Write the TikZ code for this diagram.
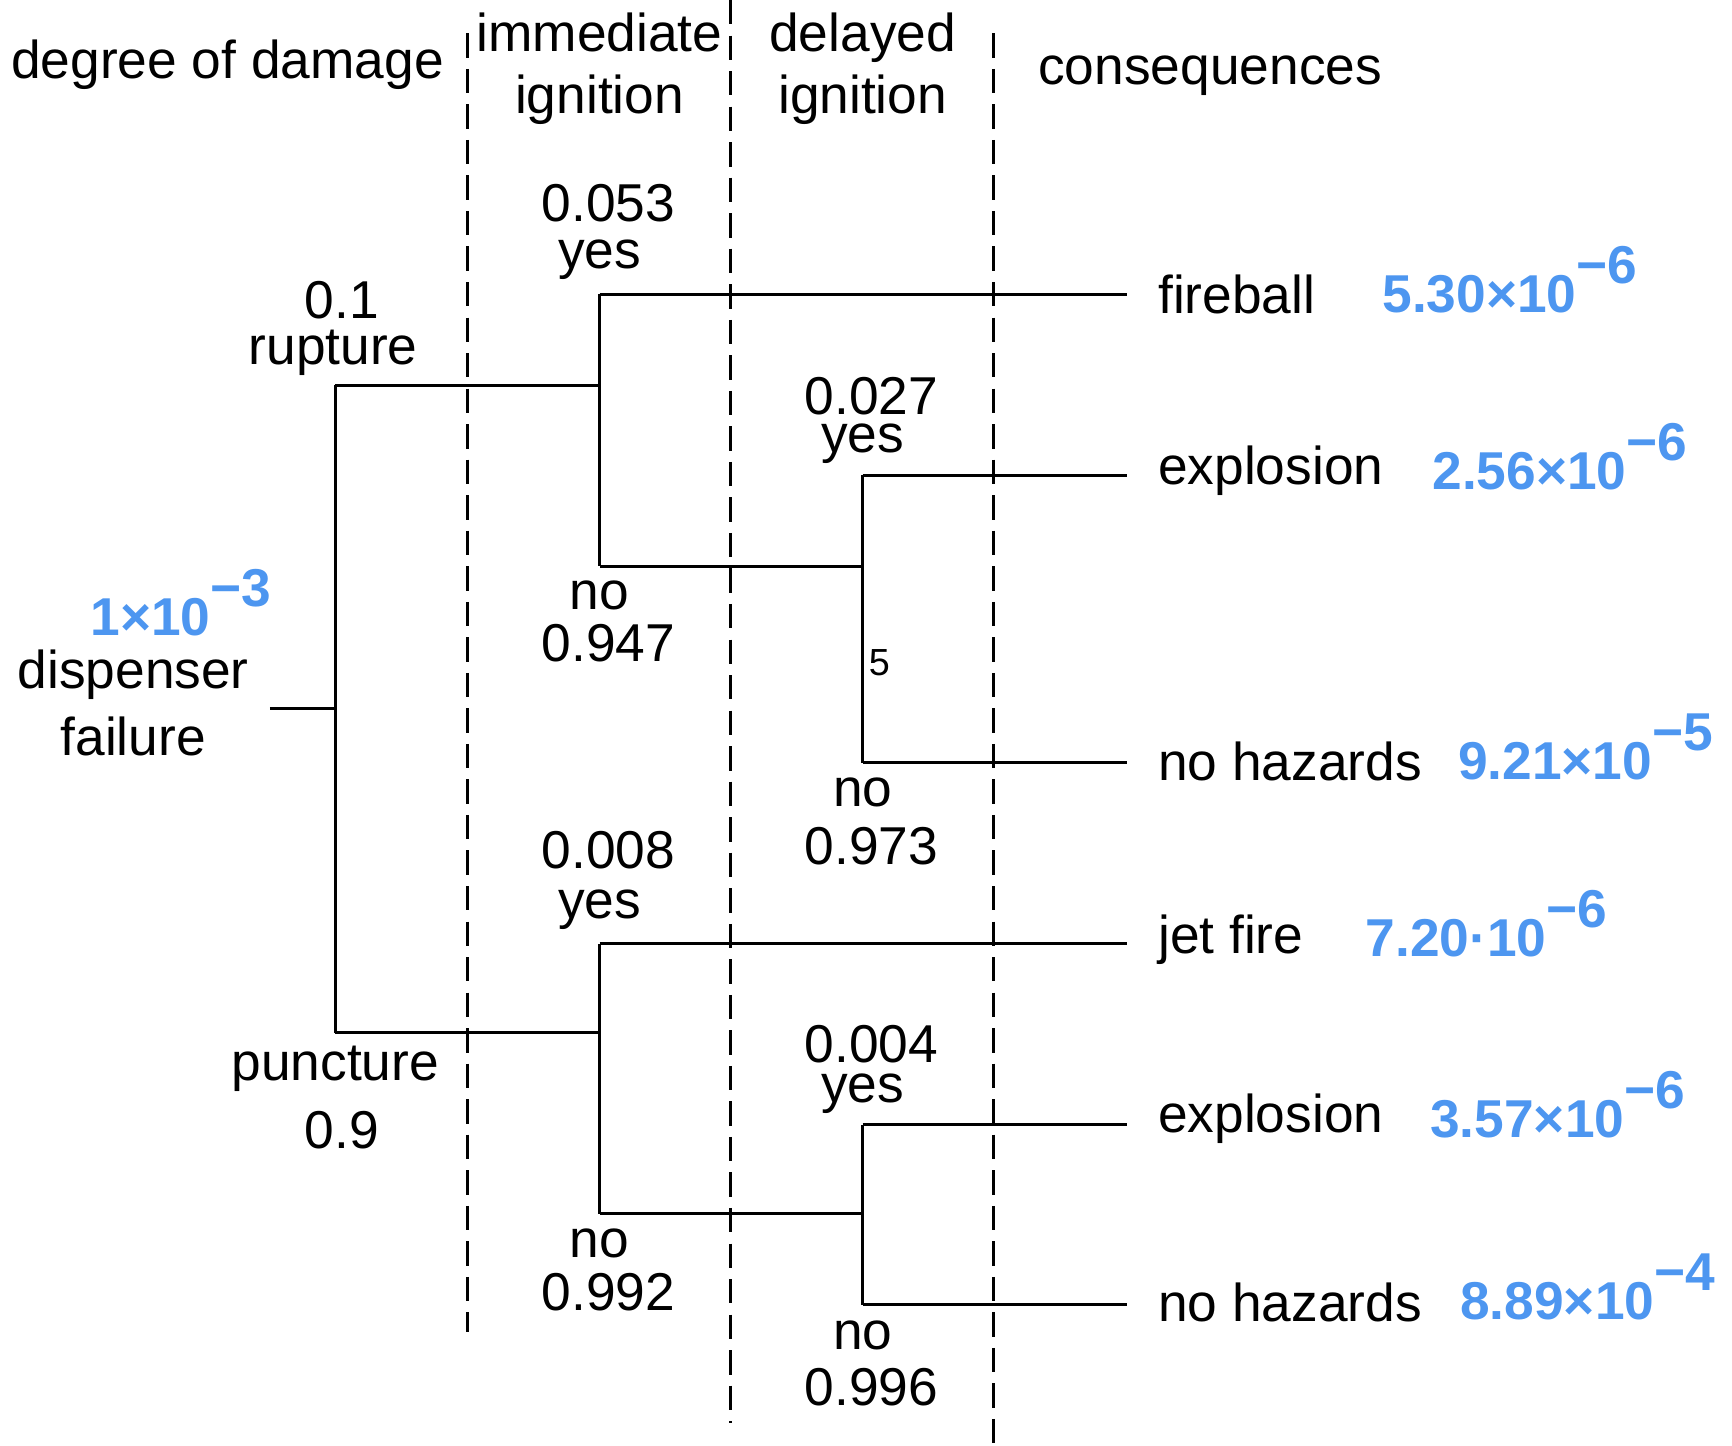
\documentclass[tikz,border=0pt]{standalone}
\usepackage{fontspec}
\setmainfont{Liberation Sans}
\definecolor{vblue}{RGB}{77,150,240}
\begin{document}
\begin{tikzpicture}[x=1pt,y=-1pt,
  lbl/.style={font=\fontsize{48}{50}\selectfont,inner sep=0pt},
  hd/.style={font=\fontsize{48}{56}\selectfont,inner sep=0pt,align=center},
  val/.style={font=\fontsize{48}{50}\selectfont\bfseries,text=vblue,inner sep=0pt,anchor=west},
  br/.style={line width=2.4pt,black},
  dsh/.style={line width=2.4pt,dash pattern=on 22pt off 10pt}]
\useasboundingbox (0,0) rectangle (1560,1302);
\newcommand{\pw}[2]{#1\raisebox{0.55em}{#2}}
% dashed column lines
\coordinate (d1a) at (421,30); \coordinate (d1b) at (421,1200);
\coordinate (d2a) at (658,0); \coordinate (d2b) at (658,1282);
\coordinate (d3a) at (895,30); \coordinate (d3b) at (895,1300);
\draw[dsh] (d1a)--(d1b); \draw[dsh] (d2a)--(d2b); \draw[dsh] (d3a)--(d3b);
% headers
\node[hd,anchor=west] (h1) at (10,58) {degree of damage};
\node[hd] (h2) at (540,62) {immediate\\ignition};
\node[hd] (h3) at (777,62) {delayed\\ignition};
\node[hd] (h4) at (1090,68) {consequences};
% tree coordinates
\coordinate (r0) at (243,638); \coordinate (r1) at (302,638);
\coordinate (a1) at (302,347); \coordinate (a2) at (302,930);
\coordinate (b1) at (540,347); \coordinate (b2) at (540,930);
\coordinate (c1) at (540,265); \coordinate (c2) at (540,510);
\coordinate (c3) at (540,850); \coordinate (c4) at (540,1093);
\coordinate (e1) at (777,510); \coordinate (e2) at (777,428); \coordinate (e3) at (777,687);
\coordinate (e4) at (777,1093); \coordinate (e5) at (777,1013); \coordinate (e6) at (777,1175);
\coordinate (f1) at (1015,265); \coordinate (f2) at (1015,428); \coordinate (f3) at (1015,687);
\coordinate (f4) at (1015,850); \coordinate (f5) at (1015,1013); \coordinate (f6) at (1015,1175);
\draw[br] (r0)--(r1); \draw[br] (a1)--(a2);
\draw[br] (a1)--(b1); \draw[br] (a2)--(b2);
\draw[br] (c1)--(c2); \draw[br] (c3)--(c4);
\draw[br] (c1)--(f1); \draw[br] (c2)--(e1); \draw[br] (c3)--(f4); \draw[br] (c4)--(e4);
\draw[br] (e2)--(e3); \draw[br] (e5)--(e6);
\draw[br] (e2)--(f2); \draw[br] (e3)--(f3); \draw[br] (e5)--(f5); \draw[br] (e6)--(f6);
% labels
\node[lbl] (l1) at (308,270) {0.1};
\node[lbl] (l2) at (300,318) {rupture};
\node[lbl] (l3) at (302,963) {puncture};
\node[lbl] (l4) at (308,1018) {0.9};
\node[val,anchor=center] (v0) at (163,543) {\pw{1×10}{−3}};
\node[lbl] (l5) at (120,608) {dispenser};
\node[lbl] (l6) at (120,663) {failure};
\node[lbl] (m1) at (548,183) {0.053};
\node[lbl] (m2) at (540,234) {yes};
\node[lbl] (m3) at (540,536) {no};
\node[lbl] (m4) at (548,579) {0.947};
\node[lbl] (m5) at (785,357) {0.027};
\node[lbl] (m6) at (777,400) {yes};
\node[inner sep=0pt,font=\fontsize{34}{36}\selectfont] (m7) at (792,597) {5};
\node[lbl] (m8) at (777,714) {no};
\node[lbl] (m9) at (785,762) {0.973};
\node[lbl] (n1) at (548,766) {0.008};
\node[lbl] (n2) at (540,819) {yes};
\node[lbl] (n3) at (540,1120) {no};
\node[lbl] (n4) at (548,1164) {0.992};
\node[lbl] (n5) at (785,940) {0.004};
\node[lbl] (n6) at (777,985) {yes};
\node[lbl] (n7) at (777,1203) {no};
\node[lbl] (n8) at (785,1249) {0.996};
% consequences
\node[lbl,anchor=west] (k1) at (1043,265) {fireball};
\node[lbl,anchor=west] (k2) at (1043,424) {explosion};
\node[lbl,anchor=west] (k3) at (1043,686) {no hazards};
\node[lbl,anchor=west] (k4) at (1043,846) {jet fire};
\node[lbl,anchor=west] (k5) at (1043,1008) {explosion};
\node[lbl,anchor=west] (k6) at (1043,1173) {no hazards};
\node[val] (v1) at (1245,252) {\pw{5.30×10}{−6}};
\node[val] (v2) at (1290,411) {\pw{2.56×10}{−6}};
\node[val] (v3) at (1313,673) {\pw{9.21×10}{−5}};
\node[val] (v4) at (1230,832) {\pw{7.20·10}{−6}};
\node[val] (v5) at (1288,995) {\pw{3.57×10}{−6}};
\node[val] (v6) at (1315,1159) {\pw{8.89×10}{−4}};
\end{tikzpicture}
\end{document}
